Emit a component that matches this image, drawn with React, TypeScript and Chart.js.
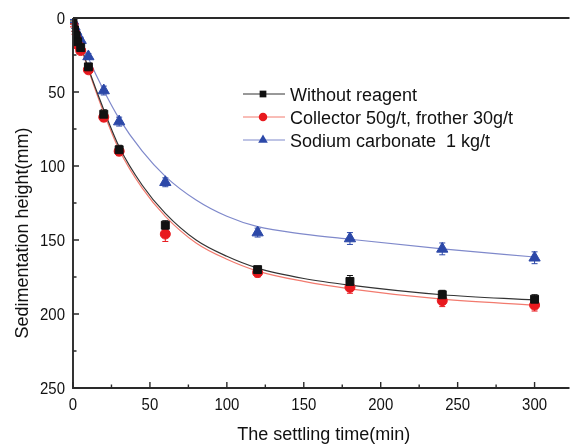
import React, { useEffect, useRef } from 'react';
import { Chart, registerables } from 'chart.js';

Chart.register(...registerables);

// ---- data ----
const times = [0, 1, 2, 3, 5, 10, 20, 30, 60, 120, 180, 240, 300];
const withoutReagent = [3, 8, 12, 16, 20, 33, 65, 89, 140, 170, 178, 187, 190];
const collector = [5, 10, 14, 18, 22, 35, 67, 90, 146, 172, 182, 191, 194];
const sodium = [2, 6, 9, 12, 15, 26, 49, 70, 111, 145, 149, 156, 162];
const errWithout = [1, 1, 2, 2, 2, 2, 3, 3, 3, 2, 4, 3, 3];
const errCollector = [1, 1, 2, 2, 2, 2, 3, 3, 5, 3, 4, 4, 4];
const errSodium = [1, 1, 2, 2, 2, 2, 3, 3, 3, 3, 4, 4, 4];

const fitTimes = [0, 5, 10, 20, 30, 45, 60, 80, 100, 120, 150, 180, 240, 300];
const fitWithout = [0, 18, 34, 62, 87, 113, 132, 150, 161, 169, 176, 180.5, 187, 190.5];
const fitCollector = [0, 19, 35, 64, 89, 115, 134, 152, 163, 171, 178, 183, 190, 194];
const fitSodium = [0, 14, 27, 49, 68, 90, 107, 123, 134, 141, 146, 149.5, 156, 161.5];

const xTicks = [0, 50, 100, 150, 200, 250, 300];
const xMinor = [25, 75, 125, 175, 225, 275];
const yTicks = [0, 50, 100, 150, 200, 250];
const yMinor = [25, 75, 125, 175, 225];

const legendLabels = ['Without reagent', 'Collector 50g/t, frother 30g/t', 'Sodium carbonate  1 kg/t'];
const xTitle = 'The settling time(min)';
const yTitle = 'Sedimentation height(mm)';

const markerColors = ['#111111', '#e8191e', '#2c48a8'];
const curveColors = ['#333333', '#f27a6e', '#7f89cb'];
const markerStyles = ['rect', 'circle', 'triangle'];
const markerRadius = [5.6, 5, 6.5];

const FONT = '"Liberation Sans", Arial, sans-serif';

function drawText(ctx: CanvasRenderingContext2D, text: string, x: number, y: number, align: CanvasTextAlign, size: number, sx = 1) {
  ctx.save();
  ctx.translate(x, y);
  ctx.scale(sx, 1);
  ctx.font = `${size}px ${FONT}`;
  ctx.textAlign = align;
  ctx.textBaseline = 'alphabetic';
  ctx.fillStyle = '#111';
  ctx.fillText(text, 0, 0);
  ctx.restore();
}

function drawMarker(ctx: CanvasRenderingContext2D, style: string, r: number, x: number, y: number, color: string) {
  ctx.save();
  ctx.fillStyle = color;
  ctx.beginPath();
  if (style === 'rect') {
    const s = r * Math.SQRT1_2;
    ctx.rect(x - s, y - s, 2 * s, 2 * s);
  } else if (style === 'circle') {
    ctx.arc(x, y, r, 0, Math.PI * 2);
  } else {
    const h = r * 1.5;
    const w = r * Math.sqrt(3);
    ctx.moveTo(x, y - r);
    ctx.lineTo(x + w / 2, y - r + h);
    ctx.lineTo(x - w / 2, y - r + h);
    ctx.closePath();
  }
  ctx.fill();
  ctx.restore();
}

const decorPlugin = {
  id: 'decor',
  beforeDatasetsDraw(chart: any) {
    const ctx = chart.ctx as CanvasRenderingContext2D;
    const xs = chart.scales.x;
    const ys = chart.scales.y;
    const series = [withoutReagent, collector, sodium];
    const errs = [errWithout, errCollector, errSodium];
    ctx.save();
    series.forEach((vals, si) => {
      ctx.strokeStyle = markerColors[si];
      ctx.lineWidth = 1;
      vals.forEach((v, i) => {
        const px = xs.getPixelForValue(times[i]);
        const e = errs[si][i];
        const y1 = ys.getPixelForValue(v - e);
        const y2 = ys.getPixelForValue(v + e);
        ctx.beginPath();
        ctx.moveTo(px, y1);
        ctx.lineTo(px, y2);
        ctx.moveTo(px - 3, y1);
        ctx.lineTo(px + 3, y1);
        ctx.moveTo(px - 3, y2);
        ctx.lineTo(px + 3, y2);
        ctx.stroke();
      });
    });
    ctx.restore();
  },
  afterDraw(chart: any) {
    const ctx = chart.ctx as CanvasRenderingContext2D;
    const { left, right, top, bottom } = chart.chartArea;
    const xs = chart.scales.x;
    const ys = chart.scales.y;
    ctx.save();
    ctx.strokeStyle = '#2a2a2a';
    ctx.lineWidth = 1.9;
    ctx.beginPath();
    ctx.moveTo(left, top);
    ctx.lineTo(right, top);
    ctx.moveTo(left, top);
    ctx.lineTo(left, bottom);
    ctx.lineTo(right, bottom);
    ctx.stroke();
    ctx.lineWidth = 1.4;
    ctx.beginPath();
    xTicks.forEach((t) => {
      const p = xs.getPixelForValue(t);
      ctx.moveTo(p, bottom);
      ctx.lineTo(p, bottom - 6);
    });
    xMinor.forEach((t) => {
      const p = xs.getPixelForValue(t);
      ctx.moveTo(p, bottom);
      ctx.lineTo(p, bottom - 3.5);
    });
    yTicks.forEach((t) => {
      const p = ys.getPixelForValue(t);
      ctx.moveTo(left, p);
      ctx.lineTo(left + 6, p);
    });
    yMinor.forEach((t) => {
      const p = ys.getPixelForValue(t);
      ctx.moveTo(left, p);
      ctx.lineTo(left + 3.5, p);
    });
    ctx.stroke();
    ctx.restore();

    xTicks.forEach((t) => drawText(ctx, String(t), xs.getPixelForValue(t), bottom + 22, 'center', 17, 0.88));
    yTicks.forEach((t) => drawText(ctx, String(t), left - 8, ys.getPixelForValue(t) + 6, 'right', 17, 0.88));
    drawText(ctx, xTitle, xs.getPixelForValue(163), bottom + 52, 'center', 18);
    ctx.save();
    ctx.translate(28, 233);
    ctx.rotate(-Math.PI / 2);
    drawText(ctx, yTitle, 0, 0, 'center', 18);
    ctx.restore();

    // legend
    const rows = [94, 117, 140];
    legendLabels.forEach((lab, i) => {
      const y = rows[i];
      ctx.save();
      ctx.strokeStyle = curveColors[i];
      ctx.lineWidth = 1;
      ctx.beginPath();
      ctx.moveTo(243, y);
      ctx.lineTo(285, y);
      ctx.stroke();
      ctx.restore();
      drawMarker(ctx, markerStyles[i], markerRadius[i] * 0.85, 263, y, markerColors[i]);
      drawText(ctx, lab, 290, y + 6.5, 'left', 18);
    });
  },
};

export default function App() {
  const ref = useRef<HTMLCanvasElement | null>(null);
  useEffect(() => {
    if (!ref.current) return;
    const pts = (vals: number[]) => vals.map((v, i) => ({ x: times[i], y: v }));
    const fit = (vals: number[]) => vals.map((v, i) => ({ x: fitTimes[i], y: v }));
    const seriesVals = [withoutReagent, collector, sodium];
    const fitVals = [fitWithout, fitCollector, fitSodium];
    const datasets: any[] = [];
    seriesVals.forEach((vals, i) => {
      datasets.push({
        label: legendLabels[i],
        data: pts(vals),
        showLine: false,
        pointStyle: markerStyles[i],
        pointRadius: markerRadius[i],
        backgroundColor: markerColors[i],
        borderColor: markerColors[i],
        borderWidth: 1,
        order: 0,
      });
    });
    fitVals.forEach((vals, i) => {
      datasets.push({
        label: legendLabels[i] + ' fit',
        data: fit(vals),
        showLine: true,
        pointRadius: 0,
        borderColor: curveColors[i],
        borderWidth: 1.2,
        cubicInterpolationMode: 'monotone',
        fill: false,
        order: 1,
      });
    });
    const chart = new Chart(ref.current, {
      type: 'scatter',
      data: { datasets },
      options: {
        animation: false,
        responsive: false,
        events: [],
        layout: { padding: { left: 73, top: 18, right: 0, bottom: 58 } },
        plugins: { legend: { display: false }, tooltip: { enabled: false } },
        scales: {
          x: { type: 'linear', min: 0, max: 322.7, display: false },
          y: { type: 'linear', min: 0, max: 250, reverse: true, display: false },
        },
      },
      plugins: [decorPlugin],
    });
    return () => chart.destroy();
  }, []);
  return (
    <div style={{ position: 'absolute', left: 0, top: 0, width: 577, height: 446, background: '#fff', overflow: 'hidden' }}>
      <canvas ref={ref} width={577} height={446} style={{ display: 'block' }} />
    </div>
  );
}
